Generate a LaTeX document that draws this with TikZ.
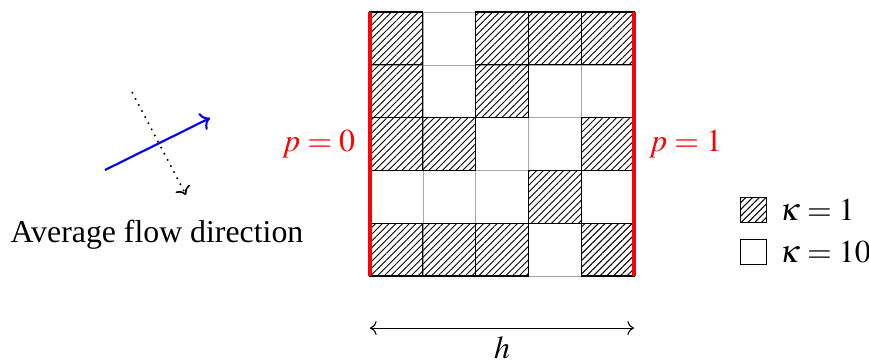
\documentclass[tikz,border=0pt,12pt]{standalone}
\usepackage{mathptmx}
\usepackage{fontspec}
\setmainfont{Liberation Serif}
\usetikzlibrary{patterns, patterns.meta, positioning, arrows.meta}

\begin{document}
\begin{tikzpicture}[
  hatch/.style={pattern={Lines[angle=45, distance=1.8pt, line width=0.35pt]}},
  hatched/.style={hatch, draw=black},
  legbox/.style={draw, minimum size=0.34cm, inner sep=0pt},
  bclabel/.style={text=red},
]
\useasboundingbox (-4.905,-1.153) rectangle (6.615,3.659);
% permeability field
\draw[gray!70, very thin, step=0.7] (0,0) grid (3.5,3.5);
\foreach \r/\c in {0/0, 0/1, 0/2, 0/4, 1/3, 2/0, 2/1, 2/4, 3/0, 3/2, 4/0, 4/2, 4/3, 4/4}
  \draw[hatched] (\c*0.7, \r*0.7) rectangle ++(0.7,0.7);
% boundary conditions
\draw[red, very thick] (0,0) -- (0,3.5);
\draw[red, very thick] (3.5,0) -- (3.5,3.5);
\node[bclabel, anchor=east] (pleft) at (-0.05,1.75) {$p=0$};
\node[bclabel, anchor=west] (pright) at (3.55,1.75) {$p=1$};
% width
\coordinate (hl) at (0,-0.69);
\coordinate (hr) at (3.5,-0.69);
\draw[<->] (hl) -- (hr);
\node (hlab) at (1.75,-0.95) {$h$};
% flow direction
\coordinate (fa) at (-3.513,1.405);
\coordinate (fb) at (-2.121,2.095);
\coordinate (na) at (-3.155,2.439);
\coordinate (nb) at (-2.439,1.074);
\draw[blue, thick, ->] (fa) -- (fb);
\draw[dotted, semithick, ->] (na) -- (nb);
\node (flowlab) at (-2.824,0.544) {Average flow direction};
% legend
\node[legbox, hatch] (leg1) at (5.08,0.875) {};
\node[legbox] (leg2) at (5.08,0.318) {};
\node[right=0.03cm of leg1] (k1) {$\kappa=1$};
\node[right=0.03cm of leg2] (k2) {$\kappa=10$};
\end{tikzpicture}
\end{document}
